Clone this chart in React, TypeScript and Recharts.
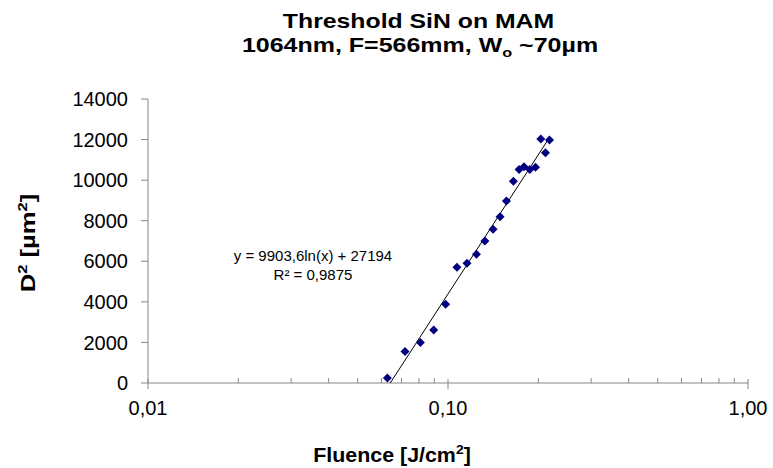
import React from 'react';
import { ScatterChart, Scatter, XAxis, YAxis, Customized } from 'recharts';

// ---- data ----
const fluence = [0.0628, 0.0719, 0.0809, 0.0896, 0.0982, 0.1071, 0.1157, 0.1244, 0.1327, 0.1413, 0.1491, 0.1566, 0.1652, 0.1725, 0.1792, 0.1873, 0.1957, 0.2039, 0.2113, 0.2179];
const d2 = [250, 1550, 2000, 2610, 3880, 5700, 5900, 6350, 7000, 7580, 8200, 8970, 9950, 10530, 10660, 10530, 10630, 12030, 11350, 11980];
const trendX = [0.0642, 0.2179];
const trendY = [0, 12100];
const yTicks = [0, 2000, 4000, 6000, 8000, 10000, 12000, 14000];
const xMajorTicks = [0.01, 0.1, 1];
const xMajorLabels = ['0,01', '0,10', '1,00'];
const xMinorTicks = [0.02, 0.03, 0.04, 0.05, 0.06, 0.07, 0.08, 0.09, 0.2, 0.3, 0.4, 0.5, 0.6, 0.7, 0.8, 0.9];
const titleLine1 = 'Threshold SiN on MAM';
const equation = 'y = 9903,6ln(x) + 27194';
const rSquared = 'R² = 0,9875';

const points = fluence.map((x, i) => ({ x, y: d2[i] }));
const trend = trendX.map((x, i) => ({ x, y: trendY[i] }));
const allXTicks = [...xMajorTicks, ...xMinorTicks].sort((a, b) => a - b);

const FONT = '"Liberation Sans", Arial, sans-serif';
const AXIS = '#868686';
const MARK = '#000080';

const Diamond = (props: any) => {
  const { cx, cy } = props;
  if (cx == null || cy == null) return <g />;
  const r = 4.5;
  return <polygon points={`${cx},${cy - r} ${cx + r},${cy} ${cx},${cy + r} ${cx - r},${cy}`} fill={MARK} />;
};

const NoShape = () => <g />;

const XTick = (props: any) => {
  const { x, y, payload } = props;
  const v = payload.value;
  const idx = xMajorTicks.findIndex((m) => Math.abs(m - v) < 1e-9);
  if (idx >= 0) {
    return (
      <g>
        <line x1={x} x2={x} y1={y - 4} y2={y + 6} stroke={AXIS} />
        <text x={x} y={y + 32} textAnchor="middle" fontSize={20} fontFamily={FONT} fill="#000">
          {xMajorLabels[idx]}
        </text>
      </g>
    );
  }
  return <line x1={x} x2={x} y1={y - 5} y2={y} stroke={AXIS} />;
};

const Texts = () => (
  <g fontFamily={FONT} fill="#000">
    <text transform="translate(418.5,28) scale(1.24,1)" textAnchor="middle" fontSize={20} fontWeight="bold">{titleLine1}</text>
    <text transform="translate(420,52) scale(1.25,1)" textAnchor="middle" fontSize={20} fontWeight="bold">
      1064nm, F=566mm, W<tspan fontSize={13} dy={5}>o</tspan><tspan dy={-5}> ~70µm</tspan>
    </text>
    <text x={313} y={261} textAnchor="middle" fontSize={15}>{equation}</text>
    <text x={313} y={280} textAnchor="middle" fontSize={15}>{rSquared}</text>
    <text transform="translate(392,462) scale(1.07,1)" textAnchor="middle" fontSize={20} fontWeight="bold">
      Fluence [J/cm<tspan fontSize={13} dy={-8}>2</tspan><tspan dy={8}>]</tspan>
    </text>
    <text transform="translate(35,243) rotate(-90) scale(1.28,1)" textAnchor="middle" fontSize={20} fontWeight="bold">
      D<tspan fontSize={13} dy={-8}>2</tspan><tspan dy={8}> [µm</tspan><tspan fontSize={13} dy={-8}>2</tspan><tspan dy={8}>]</tspan>
    </text>
  </g>
);

export default function App() {
  return (
    <div style={{ position: 'absolute', left: 0, top: 0, width: 773, height: 468, background: '#fff' }}>
      <ScatterChart width={773} height={468} margin={{ top: 99, right: 25, bottom: 25, left: 0 }}>
        <XAxis
          type="number"
          dataKey="x"
          scale="log"
          domain={[0.01, 1]}
          allowDataOverflow
          ticks={allXTicks}
          interval={0}
          tick={<XTick />}
          tickLine={false}
          tickSize={0}
          tickMargin={0}
          height={60}
          axisLine={{ stroke: AXIS }}
        />
        <YAxis
          type="number"
          dataKey="y"
          domain={[0, 14000]}
          ticks={yTicks}
          interval={0}
          width={148}
          tickSize={7}
          tickMargin={13}
          tickLine={{ stroke: AXIS }}
          axisLine={{ stroke: AXIS }}
          tick={{ fontSize: 20, fill: '#000', fontFamily: FONT }}
        />
        <Scatter data={trend} line={{ stroke: '#000', strokeWidth: 1 }} lineType="joint" shape={<NoShape />} isAnimationActive={false} />
        <Scatter data={points} shape={<Diamond />} isAnimationActive={false} />
        <Customized component={Texts} />
      </ScatterChart>
    </div>
  );
}
